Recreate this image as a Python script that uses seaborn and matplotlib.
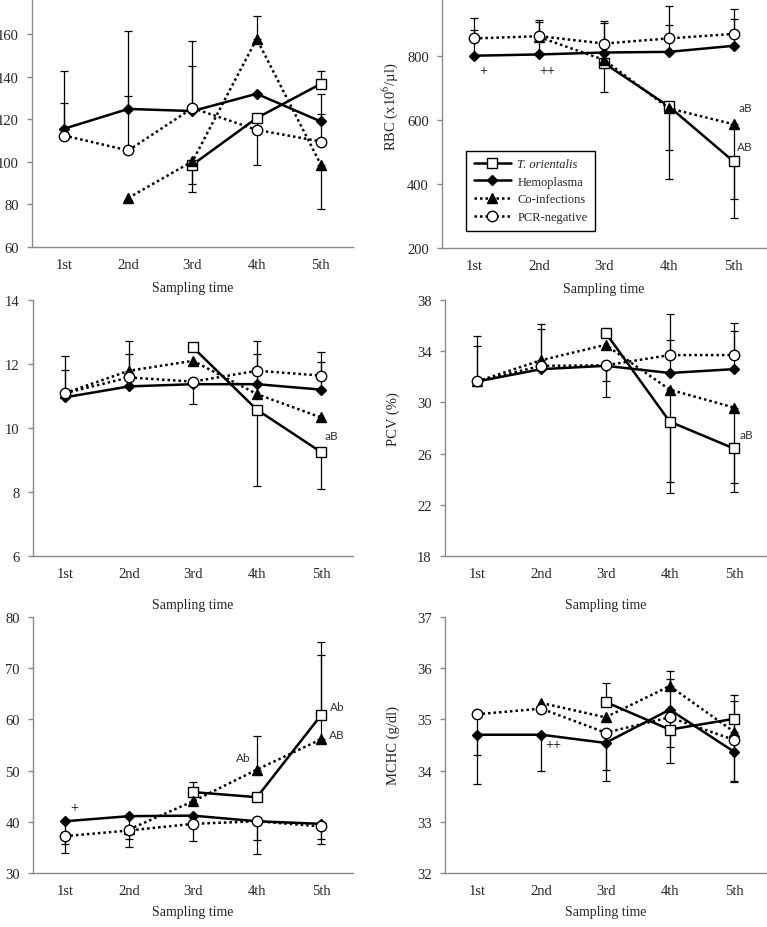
import numpy as np
import matplotlib
matplotlib.use("Agg")
import matplotlib.pyplot as plt
import seaborn as sns

nan = np.nan

# sampling times and groups
times = ["1st", "2nd", "3rd", "4th", "5th"]
groups = ["T. orientalis", "Hemoplasma", "Co-infections", "PCR-negative"]

# top left panel (axis title cut off in the original)
a_mean = {
    "T. orientalis": [nan, nan, 98.6, 120.5, 136.6],
    "Hemoplasma": [115.5, 124.8, 123.8, 131.9, 118.9],
    "Co-infections": [nan, 83.0, 100.2, 157.7, 98.6],
    "PCR-negative": [112.3, 105.3, 125.2, 115.0, 109.5],
}
# error bars: + drawn upwards, - drawn downwards, 0 none
a_err = {
    "T. orientalis": [0, 0, -9.2, -22.2, 6.0],
    "Hemoplasma": [27.0, 36.5, 21.0, 0, 13.0],
    "Co-infections": [0, 0, -14.4, 10.6, -20.6],
    "PCR-negative": [15.2, 25.5, 31.7, 0, 13.0],
}

# RBC
b_mean = {
    "T. orientalis": [nan, nan, 777, 642, 470],
    "Hemoplasma": [800, 804, 810, 812, 831],
    "Co-infections": [nan, 858, 787, 636, 586],
    "PCR-negative": [854, 861, 838, 854, 868],
}
b_err = {
    "T. orientalis": [0, 0, -91, -226, -116],
    "Hemoplasma": [81, 100, 92, 85, 83],
    "Co-infections": [0, 0, 0, -129, -291],
    "PCR-negative": [63, 50, 71, 102, 77],
}

# middle left panel
c_mean = {
    "T. orientalis": [nan, nan, 12.52, 10.57, 9.25],
    "Hemoplasma": [10.96, 11.30, 11.37, 11.37, 11.20],
    "Co-infections": [11.09, 11.79, 12.10, 11.06, 10.33],
    "PCR-negative": [11.09, 11.58, 11.45, 11.79, 11.64],
}
c_err = {
    "T. orientalis": [0, 0, 0, -2.37, -1.17],
    "Hemoplasma": [0.84, 0, 0, 0.94, 0.87],
    "Co-infections": [0, 0.94, 0, 0, 0],
    "PCR-negative": [1.16, 0.74, -0.70, 0.94, 0.75],
}

# PCV
d_mean = {
    "T. orientalis": [nan, nan, 35.45, 28.5, 26.4],
    "Hemoplasma": [31.64, 32.6, 32.86, 32.3, 32.6],
    "Co-infections": [31.64, 33.3, 34.5, 31.0, 29.6],
    "PCR-negative": [31.64, 32.86, 32.9, 33.7, 33.7],
}
d_err = {
    "T. orientalis": [0, 0, 0, -5.6, -2.7],
    "Hemoplasma": [2.76, 0, -1.16, 2.6, 3.0],
    "Co-infections": [0, 2.8, 0, -7.2, -6.6],
    "PCR-negative": [3.56, 2.84, -2.5, 3.2, 2.5],
}

# bottom left panel
e_mean = {
    "T. orientalis": [nan, nan, 45.8, 44.8, 60.8],
    "Hemoplasma": [40.1, 41.1, 41.2, 40.1, 39.6],
    "Co-infections": [nan, 38.5, 44.0, 50.2, 56.1],
    "PCR-negative": [37.2, 38.3, 39.6, 40.1, 39.1],
}
e_err = {
    "T. orientalis": [0, 0, 1.9, 0, 14.4],
    "Hemoplasma": [-4.4, -4.5, 0, -3.6, -3.0],
    "Co-infections": [0, 0, 0, 6.5, 16.5],
    "PCR-negative": [-3.2, -3.3, -3.4, -6.4, -3.5],
}

# MCHC
f_mean = {
    "T. orientalis": [nan, nan, 35.34, 34.80, 35.01],
    "Hemoplasma": [34.70, 34.70, 34.54, 35.19, 34.37],
    "Co-infections": [nan, 35.32, 35.04, 35.65, 34.76],
    "PCR-negative": [35.10, 35.21, 34.74, 35.04, 34.60],
}
f_err = {
    "T. orientalis": [0, 0, 0.38, -0.66, 0.47],
    "Hemoplasma": [-0.96, -0.70, -0.53, 0.60, -0.58],
    "Co-infections": [0, 0, 0, 0.29, 0.59],
    "PCR-negative": [-0.79, 0, -0.95, -0.58, -0.83],
}

sns.set_style("white")
plt.rcParams["font.family"] = ["Liberation Serif", "DejaVu Serif"]
plt.rcParams["mathtext.fontset"] = "stix"

styles = {
    "T. orientalis": dict(marker="s", markersize=7, markerfacecolor="white", linestyle="-", zorder=3),
    "Hemoplasma": dict(marker="D", markersize=5.5, markerfacecolor="black", linestyle="-", zorder=4),
    "Co-infections": dict(marker="^", markersize=6.5, markerfacecolor="black", linestyle=(0, (1.0, 1.2)), zorder=5),
    "PCR-negative": dict(marker="o", markersize=7.5, markerfacecolor="white", linestyle=(0, (1.0, 1.2)), zorder=6),
}
spine_grey = "#8a8a8a"

fig = plt.figure(figsize=(7.67, 9.28), dpi=100)


def panel(rect, means, errs, ylim, yticks, ylabel=None, ylab_xy=None, xlab_y=-0.14):
    ax = fig.add_axes(rect)
    x = np.arange(len(times))
    for g in groups:
        e = np.array(errs[g], dtype=float)
        m = np.array(means[g], dtype=float)
        keep = (e != 0) & ~np.isnan(m)
        if keep.any():
            lo = np.where(e < 0, -e, 0)[keep]
            hi = np.where(e > 0, e, 0)[keep]
            ax.errorbar(x[keep], m[keep], yerr=[lo, hi], fmt="none", ecolor="black",
                        elinewidth=0.9, capsize=2.8, capthick=0.9, zorder=2)
    for g in groups:
        st = styles[g]
        sns.lineplot(x=x, y=means[g], ax=ax, color="black", linewidth=1.8,
                     markeredgecolor="black", markeredgewidth=1.0, label=g, sort=False,
                     errorbar=None, **st)
    ax.set_xlim(-0.5, len(times) - 0.5)
    ax.set_ylim(*ylim)
    ax.set_yticks(yticks)
    ax.set_xticks(np.arange(len(times) + 1) - 0.5)
    ax.set_xticklabels([])
    ax.set_xticks(x, minor=True)
    ax.set_xticklabels(times, minor=True)
    ax.tick_params(axis="x", which="major", direction="out", length=3, color=spine_grey, width=1)
    ax.tick_params(axis="x", which="minor", length=0, pad=8, labelsize=10.5)
    ax.tick_params(axis="y", direction="out", length=3.5, color=spine_grey, width=1, pad=6, labelsize=10.5, left=True)
    for s in ["top", "right"]:
        ax.spines[s].set_visible(False)
    for s in ["left", "bottom"]:
        ax.spines[s].set_color(spine_grey)
        ax.spines[s].set_linewidth(1)
    ax.set_xlabel("Sampling time", fontsize=10)
    ax.xaxis.set_label_coords(0.5, xlab_y)
    if ylabel:
        ax.set_ylabel(ylabel, fontsize=10.5)
        ax.yaxis.set_label_coords(*ylab_xy)
    else:
        ax.set_ylabel("")
    ax.get_legend().remove()
    return ax


ax_a = panel([0.0417, 0.7328, 0.4185, 0.2672], a_mean, a_err, (60, 176.4), [60, 80, 100, 120, 140, 160],
             xlab_y=-0.137)
ax_b = panel([0.5763, 0.7317, 0.4224, 0.2683], b_mean, b_err, (200, 977), [200, 400, 600, 800],
             "RBC (x10$^{6}$/µl)", (-0.13, 0.57), xlab_y=-0.137)
ax_c = panel([0.0430, 0.3998, 0.4172, 0.2758], c_mean, c_err, (6, 14), [6, 8, 10, 12, 14], xlab_y=-0.164)
ax_d = panel([0.5802, 0.3998, 0.4185, 0.2758], d_mean, d_err, (18, 38), [18, 22, 26, 30, 34, 38],
             "PCV (%)", (-0.14, 0.54), xlab_y=-0.164)
ax_e = panel([0.0430, 0.0582, 0.4172, 0.2759], e_mean, e_err, (30, 80), [30, 40, 50, 60, 70, 80], xlab_y=-0.125)
ax_f = panel([0.5802, 0.0582, 0.4185, 0.2759], f_mean, f_err, (32, 37), [32, 33, 34, 35, 36, 37],
             "MCHC (g/dl)", (-0.14, 0.5), xlab_y=-0.125)

# legend in the RBC panel
handles, labels = ax_b.get_legend_handles_labels()
leg = ax_b.legend(handles, labels, loc="lower left", bbox_to_anchor=(0.055, 0.045), fontsize=9,
                  frameon=True, fancybox=False, framealpha=1, edgecolor="black", handlelength=3.0,
                  numpoints=1, labelspacing=0.45, borderpad=0.6, handletextpad=0.5)
leg.get_frame().set_linewidth(1.0)
leg.get_texts()[0].set_fontstyle("italic")

# significance marks
sans = ["Lato", "DejaVu Sans"]
letter_kw = dict(fontsize=8.5, family=sans, color="#333333", ha="center", va="center")
plus_kw = dict(fontsize=10, color="black", ha="center", va="center")
ax_b.text(0.13, 752, "+", **plus_kw)
ax_b.text(1.12, 752, "++", **plus_kw)
ax_b.text(4.18, 637, "aB", **letter_kw)
ax_b.text(4.18, 518, "AB", **letter_kw)
ax_c.text(4.17, 9.78, "aB", **letter_kw)
ax_d.text(4.2, 27.5, "aB", **letter_kw)
ax_e.text(0.14, 42.7, "+", **plus_kw)
ax_e.text(2.78, 52.5, "Ab", **letter_kw)
ax_e.text(4.25, 62.6, "Ab", **letter_kw)
ax_e.text(4.25, 57.1, "AB", **letter_kw)
ax_f.text(1.18, 34.5, "++", **plus_kw)

fig.savefig("out.png", dpi=100)
